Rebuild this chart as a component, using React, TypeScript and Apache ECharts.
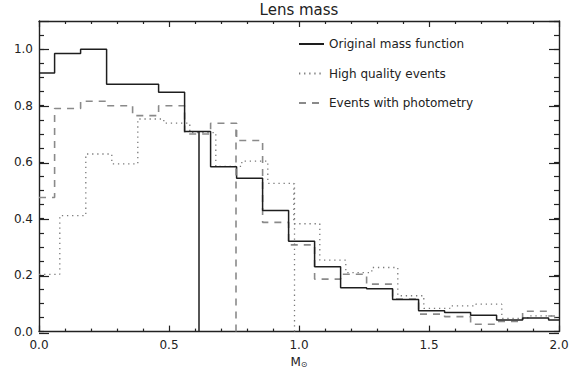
import React, { useEffect, useRef } from "react";
import * as echarts from "echarts";

// Bin edges (lens mass, solar masses)
const edgesMain = [0, 0.06, 0.16, 0.26, 0.36, 0.46, 0.56, 0.66, 0.76, 0.86, 0.96, 1.06, 1.16, 1.26, 1.36, 1.46, 1.56, 1.66, 1.76, 1.86, 1.96, 2.0];
const edgesHighQuality = [0, 0.08, 0.18, 0.28, 0.38, 0.48, 0.58, 0.68, 0.78, 0.88, 0.98, 1.08, 1.18, 1.28, 1.38, 1.48, 1.58, 1.68, 1.78, 1.88, 1.98, 2.0];

// Normalised histogram heights, one per bin
const originalMass = [0.916, 0.985, 1.0, 0.876, 0.876, 0.848, 0.709, 0.584, 0.543, 0.429, 0.32, 0.23, 0.155, 0.152, 0.114, 0.074, 0.068, 0.058, 0.041, 0.048, 0.041];
const highQuality = [0.203, 0.411, 0.629, 0.594, 0.753, 0.738, 0.705, 0.585, 0.604, 0.525, 0.382, 0.253, 0.209, 0.227, 0.127, 0.082, 0.091, 0.097, 0.047, 0.056, 0.05];
const withPhotometry = [0.475, 0.79, 0.816, 0.8, 0.765, 0.8, 0.7, 0.738, 0.677, 0.387, 0.307, 0.186, 0.203, 0.168, 0.115, 0.062, 0.053, 0.026, 0.036, 0.072, 0.055];

// Vertical marker per sample: [mass, height]
const originalMarker = [0.614, 0.709];
const highQualityMarker = [0.982, 0.525];
const photometryMarker = [0.755, 0.738];

const seriesNames = ["Original mass function", "High quality events", "Events with photometry"];
const xTicks = [0, 0.5, 1.0, 1.5, 2.0];
const yTicks = [0, 0.2, 0.4, 0.6, 0.8, 1.0];

const FONT = "DejaVu Sans";
const INK = "#222";

function stepData(edges: number[], values: number[]) {
  return edges.map((x, i) => [x, values[Math.min(i, values.length - 1)]]);
}

function markerLine(m: number[], style: any) {
  return {
    silent: true,
    symbol: ["none", "none"],
    label: { show: false },
    lineStyle: style,
    data: [[{ coord: [m[0], 0] }, { coord: [m[0], m[1]] }]],
  };
}

export default function App() {
  const ref = useRef<HTMLDivElement>(null);

  useEffect(() => {
    if (!ref.current) return;
    const chart = echarts.init(ref.current, null, { renderer: "svg" });

    const solidStyle = { color: "#1e1e1e", width: 1.5, type: "solid" as const };
    const dottedStyle = { color: "#7a7a7a", width: 1.3, type: [1.3, 3.8] as any };
    const dashedStyle = { color: "#8a8a8a", width: 1.6, type: [7, 6] as any };

    const gridBox = { left: 39, right: 14, top: 21, bottom: 40, containLabel: false };
    const tickLine = { color: INK, width: 1.2 };
    const frameLine = { color: INK, width: 1.4 };

    const xCommon = {
      type: "value" as const,
      min: 0,
      max: 2,
      interval: 0.5,
      gridIndex: 0,
      axisLine: { show: true, onZero: false, lineStyle: frameLine },
      axisTick: { show: true, inside: true, length: 6, lineStyle: tickLine },
      minorTick: { show: true, splitNumber: 5, length: 3, lineStyle: tickLine },
      splitLine: { show: false },
    };

    // Short ticks every 0.05 on the main grid
    const yMinor = {
      type: "value" as const,
      min: 0,
      max: 1.1,
      interval: 0.05,
      gridIndex: 0,
      axisLine: { show: true, onZero: false, lineStyle: frameLine },
      axisTick: { show: true, inside: true, length: 5, lineStyle: tickLine },
      splitLine: { show: false },
    };

    // Long ticks every 0.2 on an overlaid grid of the same size
    const yMajor = {
      type: "value" as const,
      min: 0,
      max: 1.1,
      interval: 0.2,
      gridIndex: 1,
      axisLine: { show: false },
      axisTick: { show: true, inside: true, length: 10, lineStyle: tickLine },
      axisLabel: { show: false },
      splitLine: { show: false },
    };

    chart.setOption({
      animation: false,
      backgroundColor: "#fff",
      title: {
        text: "Lens mass",
        left: 299,
        textAlign: "center",
        top: 2,
        padding: 0,
        textStyle: { fontFamily: FONT, fontSize: 15, fontWeight: "normal", color: INK },
      },
      legend: {
        data: seriesNames,
        orient: "vertical",
        left: 298,
        top: 38,
        itemWidth: 25,
        itemHeight: 14,
        itemGap: 17.5,
        padding: 0,
        itemStyle: { opacity: 0 },
        textStyle: { fontFamily: FONT, fontSize: 12, color: INK },
      },
      grid: [gridBox, gridBox],
      xAxis: [
        {
          ...xCommon,
          position: "bottom",
          axisLabel: {
            show: true,
            margin: 7,
            fontFamily: FONT,
            fontSize: 12,
            color: INK,
            formatter: (v: number) => (xTicks.includes(v) ? v.toFixed(1) : ""),
          },
          name: "{m|M}{s|⊙}",
          nameLocation: "middle",
          nameGap: 21,
          nameTextStyle: {
            rich: {
              m: { fontFamily: FONT, fontSize: 12, color: INK },
              s: { fontFamily: FONT, fontSize: 8, color: INK, padding: [5, 0, 0, 0] },
            },
          },
        },
        { ...xCommon, position: "top", axisLabel: { show: false } },
        { type: "value", min: 0, max: 2, gridIndex: 1, show: false },
      ],
      yAxis: [
        {
          ...yMinor,
          position: "left",
          axisLabel: {
            show: true,
            margin: 6,
            fontFamily: FONT,
            fontSize: 12,
            color: INK,
            showMaxLabel: false,
            formatter: (v: number) => (yTicks.some((t) => Math.abs(t - v) < 1e-6) ? v.toFixed(1) : ""),
          },
        },
        { ...yMinor, position: "right", axisLabel: { show: false } },
        { ...yMajor, position: "left" },
        { ...yMajor, position: "right" },
      ],
      series: [
        {
          name: seriesNames[0],
          type: "line",
          step: "end",
          symbol: "none",
          z: 4,
          lineStyle: solidStyle,
          itemStyle: { color: solidStyle.color },
          data: stepData(edgesMain, originalMass),
          markLine: markerLine(originalMarker, solidStyle),
        },
        {
          name: seriesNames[1],
          type: "line",
          step: "end",
          symbol: "none",
          z: 2,
          lineStyle: dottedStyle,
          itemStyle: { color: dottedStyle.color },
          data: stepData(edgesHighQuality, highQuality),
          markLine: markerLine(highQualityMarker, dottedStyle),
        },
        {
          name: seriesNames[2],
          type: "line",
          step: "end",
          symbol: "none",
          z: 3,
          lineStyle: dashedStyle,
          itemStyle: { color: dashedStyle.color },
          data: stepData(edgesMain, withPhotometry),
          markLine: markerLine(photometryMarker, dashedStyle),
        },
      ],
    });

    return () => chart.dispose();
  }, []);

  return (
    <div
      ref={ref}
      style={{ position: "fixed", left: 0, top: 0, width: 573, height: 373, background: "#fff" }}
    />
  );
}
